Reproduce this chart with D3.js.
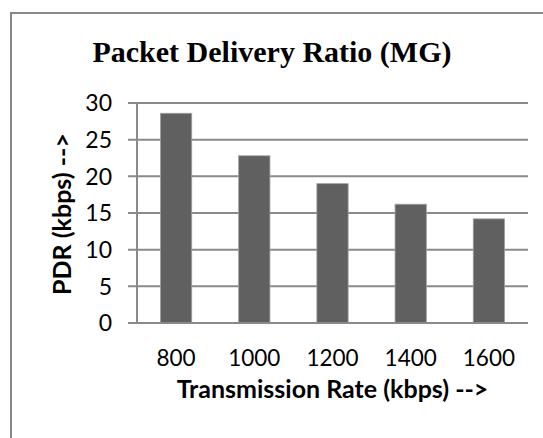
<!DOCTYPE html>
<html>
<head>
<meta charset="utf-8">
<script src="https://cdn.jsdelivr.net/npm/d3@7"></script>
<style>
  html, body { margin: 0; padding: 0; background: #fff; }
  svg { display: block; }
</style>
</head>
<body>
<svg id="chart" width="543" height="438"></svg>
<script>
const categories = ["800", "1000", "1200", "1400", "1600"];
const values = [28.6, 22.8, 19.0, 16.2, 14.2];
const yTicks = [0, 5, 10, 15, 20, 25, 30];
const titleText = "Packet Delivery Ratio (MG)";
const xTitle = "Transmission Rate (kbps) -->";
const yTitle = "PDR (kbps) -->";

const svg = d3.select("#chart");
const plot = { left: 137, right: 528, top: 103, bottom: 323 };

// outer chart border
svg.append("rect")
  .attr("x", 11).attr("y", 13)
  .attr("width", 560).attr("height", 460)
  .attr("fill", "none").attr("stroke", "#888").attr("stroke-width", 2);

const x = d3.scaleBand().domain(categories)
  .range([plot.left, plot.right]).paddingInner(0.6).paddingOuter(0.3);
const y = d3.scaleLinear().domain([0, 30]).range([plot.bottom, plot.top]);

// gridlines
svg.append("g").selectAll("line").data(yTicks).join("line")
  .attr("x1", plot.left - 9).attr("x2", plot.right)
  .attr("y1", d => y(d)).attr("y2", d => y(d))
  .attr("stroke", "#8a8a8a").attr("stroke-width", 2);

// y axis line
svg.append("line")
  .attr("x1", plot.left).attr("x2", plot.left)
  .attr("y1", plot.top).attr("y2", plot.bottom)
  .attr("stroke", "#8a8a8a").attr("stroke-width", 2);

// bars
svg.append("g").selectAll("rect").data(values).join("rect")
  .attr("x", (d, i) => x(categories[i]))
  .attr("y", d => y(d))
  .attr("width", x.bandwidth())
  .attr("height", d => y(0) - y(d))
  .attr("fill", "#606060")
  .attr("stroke", "#a0a0a0").attr("stroke-width", 0.8);

// redraw baseline on top
svg.append("line")
  .attr("x1", plot.left - 9).attr("x2", plot.right)
  .attr("y1", y(0)).attr("y2", y(0))
  .attr("stroke", "#8a8a8a").attr("stroke-width", 2);

// y tick labels
svg.append("g").selectAll("text").data(yTicks).join("text")
  .attr("x", 112).attr("y", d => y(d))
  .attr("dy", "0.36em")
  .attr("text-anchor", "end")
  .attr("font-family", "Lato, sans-serif").attr("font-size", 23)
  .attr("fill", "#000")
  .text(d => d);

// x tick labels
svg.append("g").selectAll("text").data(categories).join("text")
  .attr("x", d => x(d) + x.bandwidth() / 2)
  .attr("y", 366)
  .attr("text-anchor", "middle")
  .attr("font-family", "Lato, sans-serif").attr("font-size", 22.5)
  .attr("fill", "#000")
  .text(d => d);

// title
svg.append("text")
  .attr("x", 272).attr("y", 62)
  .attr("text-anchor", "middle")
  .attr("font-family", "'Liberation Serif', 'Times New Roman', serif")
  .attr("font-weight", "bold").attr("font-size", 30)
  .text(titleText);

// x axis title
svg.append("text")
  .attr("x", (plot.left + plot.right) / 2).attr("y", 398)
  .attr("text-anchor", "middle")
  .attr("font-family", "Lato, sans-serif").attr("font-weight", "bold").attr("font-size", 25)
  .text(xTitle);

// y axis title
svg.append("text")
  .attr("transform", `translate(71, ${(plot.top + plot.bottom) / 2 + 1}) rotate(-90)`)
  .attr("text-anchor", "middle")
  .attr("font-family", "Lato, sans-serif").attr("font-weight", "bold").attr("font-size", 25)
  .text(yTitle);
</script>
</body>
</html>
